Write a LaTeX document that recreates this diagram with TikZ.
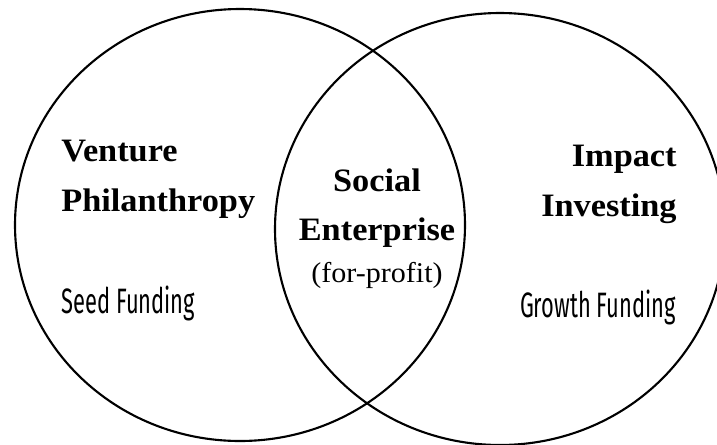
\documentclass[tikz,border=0pt]{standalone}
\usepackage{fontspec}
\setmainfont{Liberation Serif}
\newfontfamily\headfont[FakeStretch=1.05]{Liberation Serif}
\newfontfamily\fundfont[FakeStretch=0.62]{Fira Sans}
\usepackage{tikz}
\usetikzlibrary{positioning}

\begin{document}
\begin{tikzpicture}[
    x=0.02cm, y=-0.02cm,
    set/.style={draw, line width=1.2pt},
    heading/.style={inner sep=0pt, font=\fontsize{18.6}{28.4}\selectfont\headfont\bfseries},
    remark/.style={inner sep=0pt, font=\fontsize{16.3}{19}\selectfont\headfont},
    funding/.style={inner sep=0pt, font=\fontsize{20.1}{24}\selectfont\fundfont}
]
    \useasboundingbox (0,0) rectangle (717,444);
    \clip (0,0) rectangle (717,444);

    % the two sets
    \draw[set] (240,225) ellipse [x radius=225, y radius=216];
    \draw[set] (500,229) ellipse [x radius=225, y radius=216];

    % left set
    \node[heading, align=left, anchor=north west] (venture) at (61,140) {Venture\\Philanthropy};
    \node[funding, anchor=base west] (seed) at (61,313) {Seed Funding};

    % overlap
    \node[heading, align=center, anchor=north] (social) at (377,168) {Social\\Enterprise};
    \node[remark, anchor=base] (profit) at (377,282) {(for-profit)};

    % right set
    \node[heading, align=right, anchor=north east] (impact) at (677,145) {Impact\\Investing};
    \node[funding, anchor=base east] (growth) at (676,317) {Growth Funding};
\end{tikzpicture}
\end{document}
